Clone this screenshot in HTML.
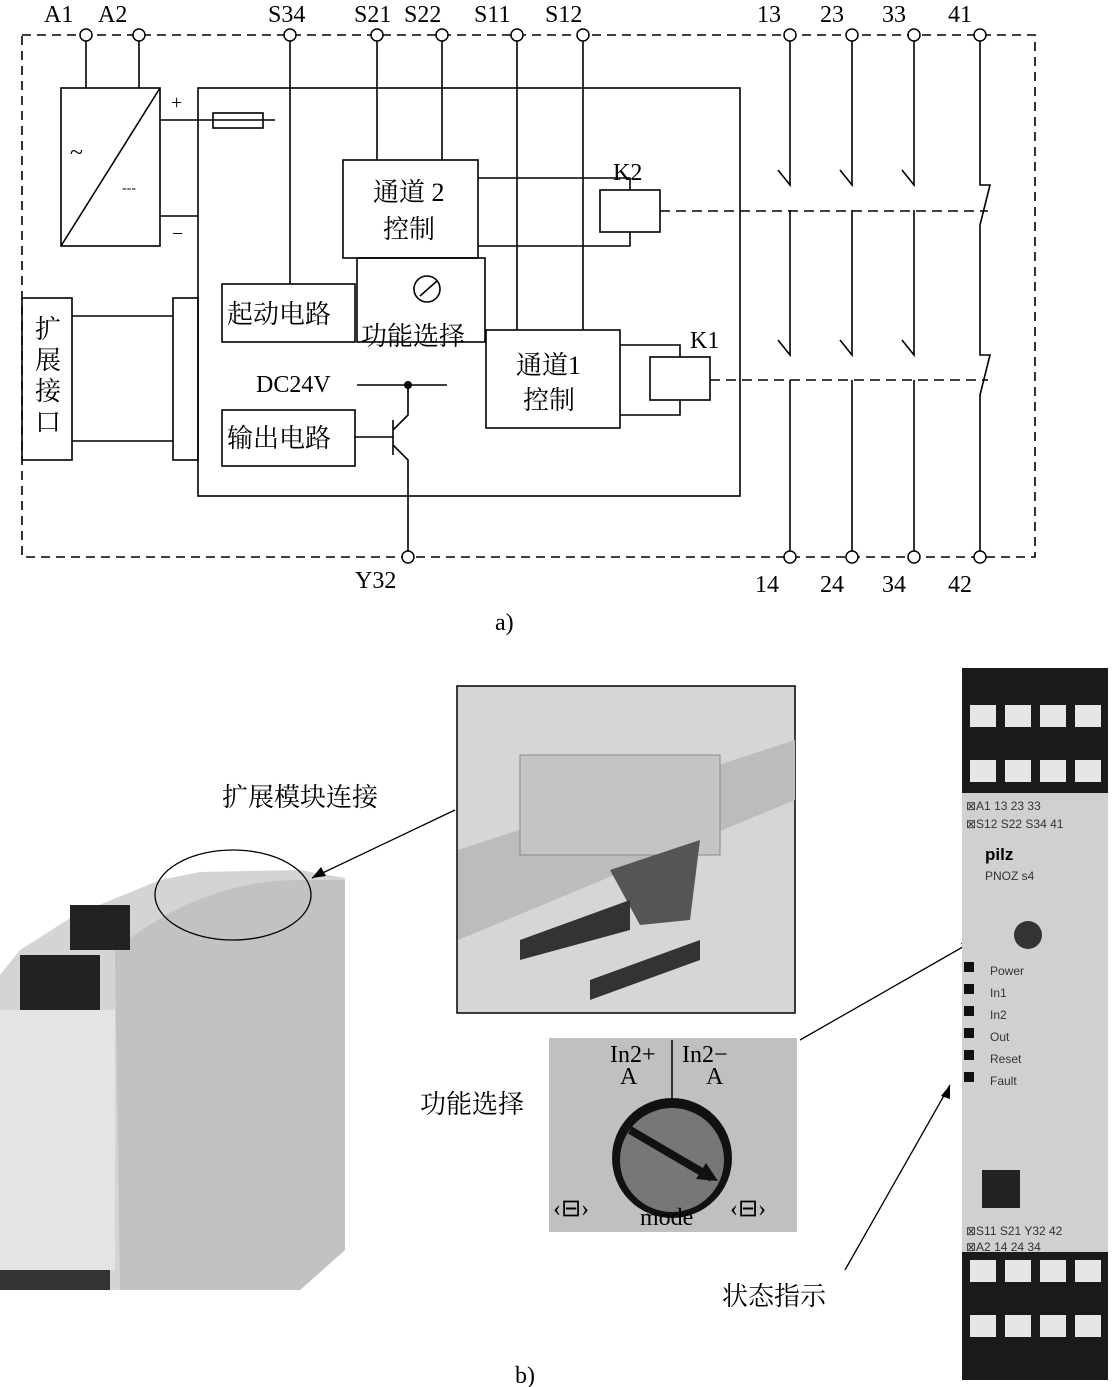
<!DOCTYPE html>
<html><head><meta charset="utf-8"><style>
html,body{margin:0;padding:0;background:#fff;}
svg{display:block;font-family:"Liberation Serif","Noto Serif CJK SC",serif;}
</style></head><body>
<svg width="1112" height="1387" viewBox="0 0 1112 1387" xmlns="http://www.w3.org/2000/svg">
<g stroke="#000" stroke-width="1.6" fill="none">
<rect x="22" y="35" width="1013" height="522" stroke-dasharray="9,6"/>
<path d="M86 35V88M139 35V88M290 35V284M377 35V160M442 35V160M517 35V330M583 35V330"/>
<rect x="61" y="88" width="99" height="158"/>
<path d="M61 246L160 88"/>
<rect x="198" y="88" width="542" height="408"/>
<path d="M160 120H275M160 216H198"/>
<rect x="213" y="113" width="50" height="15"/>
<rect x="343" y="160" width="135" height="98"/>
<rect x="222" y="284" width="133" height="58"/>
<rect x="357" y="258" width="128" height="84"/>
<rect x="486" y="330" width="134" height="98"/>
<rect x="222" y="410" width="133" height="56"/>
<rect x="600" y="190" width="60" height="42"/>
<rect x="650" y="357" width="60" height="43"/>
<path d="M478 178H630V190M478 246H630V232M620 345H680V357M620 415H680V400"/>
<rect x="22" y="298" width="50" height="162"/>
<rect x="173" y="298" width="25" height="162"/>
<path d="M72 316H173M72 441H173"/>
<path d="M357 385H447M355 437H393M393 420V455M393 430L408 415V385M393 445L408 460V557"/>
<circle cx="427" cy="289" r="13"/><path d="M420 296L437 281"/>
<path d="M790 35V185L778 170M790 210V355L778 340M790 380V557"/>
<path d="M852 35V185L840 170M852 210V355L840 340M852 380V557"/>
<path d="M914 35V185L902 170M914 210V355L902 340M914 380V557"/>
<path d="M980 35V185H990L980 225M980 225V355H990L980 395V557"/>
<path d="M660 211H988M710 380H988" stroke-dasharray="10,6"/>
</g>
<circle cx="408" cy="385" r="4" fill="#000"/>
<g fill="#fff" stroke="#000" stroke-width="1.5">
<circle cx="86" cy="35" r="6"/><circle cx="139" cy="35" r="6"/><circle cx="290" cy="35" r="6"/><circle cx="377" cy="35" r="6"/><circle cx="442" cy="35" r="6"/><circle cx="517" cy="35" r="6"/><circle cx="583" cy="35" r="6"/><circle cx="790" cy="35" r="6"/><circle cx="852" cy="35" r="6"/><circle cx="914" cy="35" r="6"/><circle cx="980" cy="35" r="6"/>
<circle cx="408" cy="557" r="6"/><circle cx="790" cy="557" r="6"/><circle cx="852" cy="557" r="6"/><circle cx="914" cy="557" r="6"/><circle cx="980" cy="557" r="6"/>
</g>
<g font-size="24" fill="#000">
<text x="44" y="22">A1</text><text x="98" y="22">A2</text><text x="268" y="22">S34</text><text x="354" y="22">S21</text><text x="404" y="22">S22</text><text x="474" y="22">S11</text><text x="545" y="22">S12</text>
<text x="757" y="22">13</text><text x="820" y="22">23</text><text x="882" y="22">33</text><text x="948" y="22">41</text>
<text x="355" y="588">Y32</text><text x="755" y="592">14</text><text x="820" y="592">24</text><text x="882" y="592">34</text><text x="948" y="592">42</text>
<text x="171" y="109" font-size="20">+</text><text x="172" y="240" font-size="20">−</text><text x="70" y="160">~</text><text x="122" y="192" font-size="14">---</text>
<text x="613" y="180">K2</text><text x="690" y="348">K1</text>
<text x="256" y="392">DC24V</text>
<text x="373" y="201" font-size="26">通道 2</text><text x="383" y="238" font-size="26">控制</text>
<text x="516" y="374" font-size="26">通道1</text><text x="523" y="409" font-size="26">控制</text>
<text x="227" y="323" font-size="26">起动电路</text>
<text x="361" y="345" font-size="26">功能选择</text>
<text x="227" y="447" font-size="26">输出电路</text>
<text x="35" y="338" font-size="26">扩</text><text x="35" y="369" font-size="26">展</text><text x="35" y="400" font-size="26">接</text><text x="35" y="431" font-size="26">口</text>
<text x="495" y="630">a)</text><text x="515" y="1383">b)</text>
<text x="222" y="806" font-size="26">扩展模块连接</text>
<text x="420" y="1113" font-size="26">功能选择</text>
<text x="722" y="1305" font-size="26">状态指示</text>
</g>
<!-- left photo -->
<path d="M0 975L20 950L75 915L160 880L200 872L300 870L345 878L345 1250L300 1290L60 1290L0 1280Z" fill="#d4d4d4"/>
<path d="M115 950Q200 880 300 880L345 880L345 1250L300 1290H120Z" fill="#c2c2c2"/>
<rect x="20" y="955" width="80" height="60" fill="#222"/>
<rect x="70" y="905" width="60" height="45" fill="#222"/>
<rect x="0" y="1010" width="115" height="260" fill="#e4e4e4"/>
<rect x="0" y="1270" width="110" height="20" fill="#333"/>
<ellipse cx="233" cy="895" rx="78" ry="45" fill="none" stroke="#000" stroke-width="1.3"/>
<path d="M455 810L312 878" stroke="#000" stroke-width="1.3"/>
<path d="M312 878l14 -2 -5 -9z" fill="#000"/>
<!-- inset -->
<rect x="457" y="686" width="338" height="327" fill="#d6d6d6" stroke="#000" stroke-width="1.5"/>
<path d="M458 850L795 740V800L458 940Z" fill="#bcbcbc"/>
<rect x="520" y="755" width="200" height="100" fill="#c4c4c4" stroke="#888"/>
<path d="M610 870L700 840L690 920L640 925Z" fill="#555"/>
<path d="M520 940L630 900V930L520 960ZM590 980L700 940V960L590 1000Z" fill="#333"/>
<!-- dial -->
<rect x="549" y="1038" width="248" height="194" fill="#c0c0c0"/>
<circle cx="672" cy="1158" r="60" fill="#111"/>
<circle cx="672" cy="1160" r="52" fill="#777"/>
<path d="M630 1130L712 1178" stroke="#111" stroke-width="8"/>
<path d="M718 1181l-22 -2 10 -16z" fill="#111"/>
<path d="M672 1040V1098" stroke="#000" stroke-width="1.5"/>
<g font-size="24" fill="#000"><text x="610" y="1062">In2+</text><text x="682" y="1062">In2−</text><text x="620" y="1084">A</text><text x="706" y="1084">A</text><text x="640" y="1225">mode</text>
<text x="553" y="1216">‹⊟›</text><text x="730" y="1216">‹⊟›</text></g>
<path d="M800 1040L975 940M845 1270L950 1085" stroke="#000" stroke-width="1.3"/>
<path d="M975 940l-14 3 5 8zM950 1085l-9 11 9 3z" fill="#000"/>
<!-- right strip -->
<rect x="962" y="668" width="146" height="712" fill="#d0d0d0"/>
<rect x="962" y="668" width="146" height="125" fill="#1a1a1a"/>
<rect x="962" y="1252" width="146" height="128" fill="#1a1a1a"/>
<g fill="#e6e6e6">
<rect x="970" y="705" width="26" height="22"/><rect x="1005" y="705" width="26" height="22"/><rect x="1040" y="705" width="26" height="22"/><rect x="1075" y="705" width="26" height="22"/>
<rect x="970" y="760" width="26" height="22"/><rect x="1005" y="760" width="26" height="22"/><rect x="1040" y="760" width="26" height="22"/><rect x="1075" y="760" width="26" height="22"/>
<rect x="970" y="1260" width="26" height="22"/><rect x="1005" y="1260" width="26" height="22"/><rect x="1040" y="1260" width="26" height="22"/><rect x="1075" y="1260" width="26" height="22"/>
<rect x="970" y="1315" width="26" height="22"/><rect x="1005" y="1315" width="26" height="22"/><rect x="1040" y="1315" width="26" height="22"/><rect x="1075" y="1315" width="26" height="22"/>
</g>
<rect x="982" y="1170" width="38" height="38" fill="#222"/>
<circle cx="1028" cy="935" r="14" fill="#333"/>
<g fill="#111"><rect x="964" y="962" width="10" height="10"/><rect x="964" y="984" width="10" height="10"/><rect x="964" y="1006" width="10" height="10"/><rect x="964" y="1028" width="10" height="10"/><rect x="964" y="1050" width="10" height="10"/><rect x="964" y="1072" width="10" height="10"/></g>
<g font-family="Liberation Sans,sans-serif" font-size="12" fill="#333">
<text x="966" y="810">⊠A1  13  23  33</text><text x="966" y="828">⊠S12 S22 S34 41</text>
<text x="985" y="860" font-size="17" font-weight="bold" fill="#000">pilz</text><text x="985" y="880">PNOZ s4</text>
<text x="990" y="975">Power</text><text x="990" y="997">In1</text><text x="990" y="1019">In2</text><text x="990" y="1041">Out</text><text x="990" y="1063">Reset</text><text x="990" y="1085">Fault</text>
<text x="966" y="1235">⊠S11 S21 Y32 42</text><text x="966" y="1251">⊠A2  14  24  34</text>
</g>
</svg>
</body></html>
